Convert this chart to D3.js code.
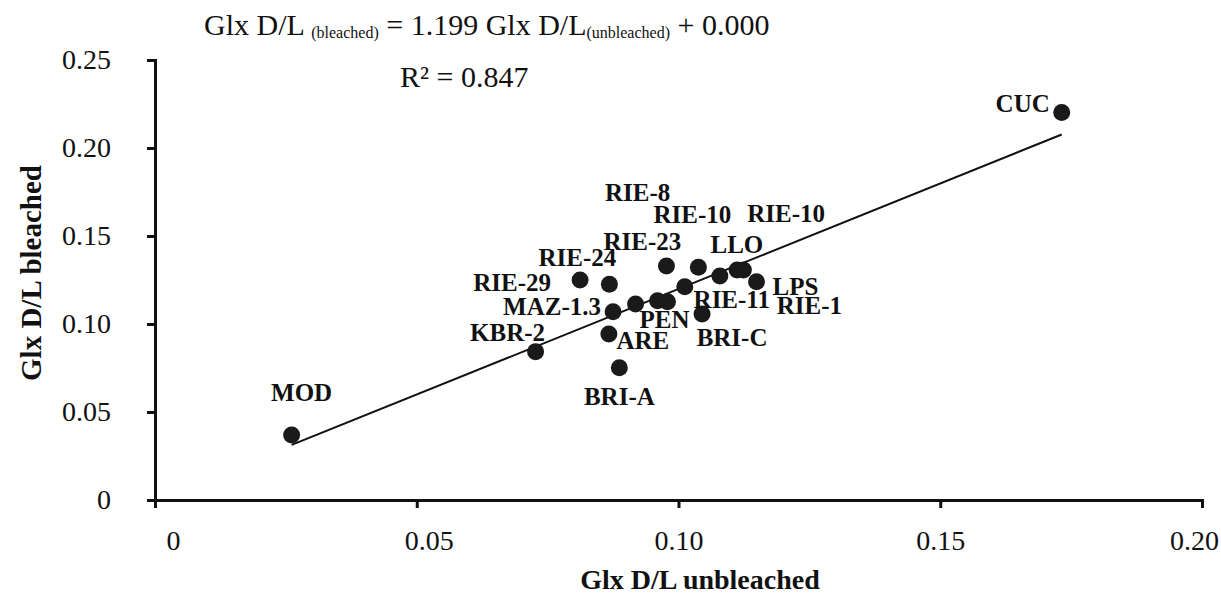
<!DOCTYPE html>
<html>
<head>
<meta charset="utf-8">
<script src="https://cdn.jsdelivr.net/npm/d3@7/dist/d3.min.js"></script>
<style>
  body { margin: 0; background: #fff; }
  svg { display: block; }
  text { font-family: "Liberation Serif", "Times New Roman", serif; fill: #111; }
</style>
</head>
<body>
<div id="chart"></div>
<script>
// Sample sites ("" = unlabeled point)
const sites = ["MOD", "CUC", "KBR-2", "BRI-A", "ARE", "MAZ-1.3", "RIE-29", "RIE-24", "RIE-8", "PEN",
  "", "RIE-23", "RIE-11", "RIE-10", "LLO", "RIE-10", "RIE-1", "LPS", "BRI-C"];
// Glx D/L unbleached (x)
const unbleached = [0.0261, 0.1732, 0.0727, 0.0887, 0.0867, 0.0875, 0.0812, 0.0868, 0.0918, 0.0960,
  0.0979, 0.0977, 0.1012, 0.1038, 0.1079, 0.1112, 0.1124, 0.1149, 0.1045];
// Glx D/L bleached (y)
const bleached = [0.0369, 0.2202, 0.0843, 0.0752, 0.0943, 0.1070, 0.1250, 0.1226, 0.1114, 0.1132,
  0.1127, 0.1330, 0.1212, 0.1322, 0.1273, 0.1307, 0.1307, 0.1240, 0.1057];

const xTicks = [0, 0.05, 0.10, 0.15, 0.20];
const yTicks = [0, 0.05, 0.10, 0.15, 0.20, 0.25];
const slope = 1.199;
const intercept = 0.000;
const r2 = 0.847;

// where each label was dragged to, relative to its point (px)
const labelOffsets = [[10, -42], [-39, -9], [-28, -19], [0, 29], [34, 7], [-61, -5], [-68, 3], [-32, -26],
  [2, -111], [7, 19], [0, 0], [-24, -24], [47, 13], [-6, -53], [17, -31], [49, -56], [66, 36], [39, 5], [30, 24]];

const width = 1221, height = 599;
const data = sites.map((s, i) => ({ site: s, x: unbleached[i], y: bleached[i], off: labelOffsets[i] }));

const svg = d3.select("#chart").append("svg")
  .attr("width", width)
  .attr("height", height);

// Scales
const x = d3.scaleLinear().domain([0, 0.2]).range([155, 1202]);
const y = d3.scaleLinear().domain([0, 0.25]).range([500, 60]);
const fmt = d => d === 0 ? "0" : d.toFixed(2);

// Axes
const xAxis = svg.append("g")
  .attr("transform", `translate(0,${y(0)})`)
  .call(d3.axisBottom(x).tickValues(xTicks).tickFormat(fmt).tickSize(8).tickPadding(22));
const yAxis = svg.append("g")
  .attr("transform", `translate(${x(0)},0)`)
  .call(d3.axisLeft(y).tickValues(yTicks).tickFormat(fmt).tickSize(8).tickPadding(36));

[xAxis, yAxis].forEach(g => {
  g.select(".domain").attr("stroke", "#111").attr("stroke-width", 3);
  g.selectAll(".tick line").attr("stroke", "#111").attr("stroke-width", 3);
  g.selectAll(".tick text").style("font-size", "28px").attr("fill", "#111");
});
// first two x labels sit a bit to the right in the original, last one hugs the edge
xAxis.selectAll(".tick text").attr("dx", d => d === 0 ? 18 : d === 0.05 ? 12 : d === 0.2 ? -8 : 0);

// Axis titles
svg.append("text")
  .attr("x", 700).attr("y", 589)
  .attr("text-anchor", "middle")
  .style("font-size", "28px").style("font-weight", "bold")
  .text("Glx D/L unbleached");
svg.append("text")
  .attr("transform", "translate(41,273) rotate(-90)")
  .attr("text-anchor", "middle")
  .style("font-size", "29px").style("font-weight", "bold")
  .text("Glx D/L bleached");

// Regression line over the data range
const xr = d3.extent(unbleached);
svg.append("line")
  .attr("x1", x(xr[0])).attr("y1", y(slope * xr[0] + intercept))
  .attr("x2", x(xr[1])).attr("y2", y(slope * xr[1] + intercept))
  .attr("stroke", "#111").attr("stroke-width", 2);

// Points
svg.selectAll(".pt")
  .data(data)
  .enter().append("circle")
  .attr("class", "pt")
  .attr("cx", d => x(d.x))
  .attr("cy", d => y(d.y))
  .attr("r", 8.5)
  .attr("fill", "#1a1a1a");

// Point labels
svg.selectAll(".lbl")
  .data(data.filter(d => d.site))
  .enter().append("text")
  .attr("class", "lbl")
  .attr("x", d => x(d.x) + d.off[0])
  .attr("y", d => y(d.y) + d.off[1])
  .attr("dy", "0.33em")
  .attr("text-anchor", "middle")
  .style("font-size", "25px").style("font-weight", "bold")
  .text(d => d.site);

// Equation and R²
const eq = svg.append("text")
  .attr("x", 204).attr("y", 35)
  .style("font-size", "30px");
eq.append("tspan").text("Glx D/L ");
eq.append("tspan").attr("dy", 3).style("font-size", "16px").text("(bleached)");
eq.append("tspan").attr("dy", -3).text(` = ${slope.toFixed(3)} Glx D/L`);
eq.append("tspan").attr("dy", 3).style("font-size", "16px").text("(unbleached)");
eq.append("tspan").attr("dy", -3).text(` + ${intercept.toFixed(3)}`);

svg.append("text")
  .attr("x", 400).attr("y", 87)
  .style("font-size", "30px")
  .text(`R² = ${r2.toFixed(3)}`);
</script>
</body>
</html>
